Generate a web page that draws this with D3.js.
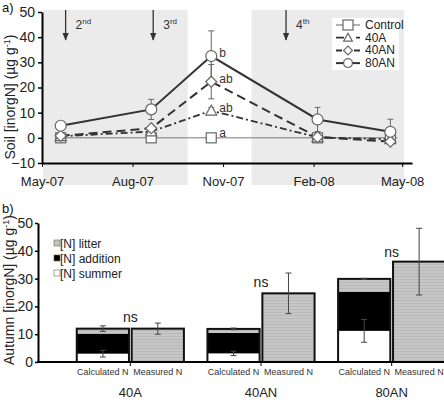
<!DOCTYPE html>
<html>
<head>
<meta charset="utf-8">
<script src="https://cdn.jsdelivr.net/npm/d3@7"></script>
<style>
body { margin: 0; background: #fff; }
svg { font-family: "Liberation Sans", Arial, sans-serif; }
</style>
</head>
<body>
<div id="chart"></div>
<script>
// ---- panel a) data ----
var sampleDates = ["2007-05-20", "2007-08-20", "2007-10-20", "2008-02-05", "2008-04-19"];
var controlVals = [0, 0, 0, 0, 0];
var n40A = [0.6, 2.5, 10.8, 0.2, -0.6];
var n40AN = [0.8, 3.8, 22.3, 0.3, -1.5];
var n80AN = [4.8, 11.3, 32.5, 7.3, 2.4];
var err40A = [0, 0, 1.2, 0, 0];
var err40AN = [0, 0, 6.8, 0, 0];
var err80AN = [0, 4, 10, 4.8, 5];
var timeTicks = ["2007-05-01", "2007-08-01", "2007-11-01", "2008-02-01", "2008-05-01"];
var tickNames = ["May-07", "Aug-07", "Nov-07", "Feb-08", "May-08"];
var shadeSpans = [["2007-05-02", "2007-09-26"], ["2007-11-30", "2008-05-03"]];
var additions = [["2007-05-25", "2"], ["2007-08-22", "3"], ["2008-01-04", "4"]];
var sigLetters = ["b", "ab", "ab", "a"];
var sigY = [33.6, 23.3, 11.8, 1.9];

// ---- panel b) data ----
var groups = ["40A", "40AN", "80AN"];
var barKinds = ["Calculated N", "Measured N"];
var summerN = [3.0, 3.1, 11.2];
var summerErr = [1.2, 0.8, 4.1];
var additionN = [7.2, 7.4, 14.1];
var litterN = [1.8, 1.4, 4.6];
var calcErr = [1.0, 0.3, 0.2];
var measuredN = [12.0, 24.7, 36.1];
var measuredErr = [2.0, 7.3, 12.0];
var nsY = [16.3, 28.8, 39.6];

var width = 444, height = 403;
var svg = d3.select("#chart").append("svg")
	.attr("width", width)
	.attr("height", height);

var parse = d3.timeParse("%Y-%m-%d");

var defs = svg.append("defs");
var pat = defs.append("pattern").attr("id", "litter")
	.attr("patternUnits", "userSpaceOnUse").attr("width", 4).attr("height", 3);
pat.append("rect").attr("width", 4).attr("height", 3).attr("fill", "#c6c6c6");
pat.append("line").attr("x1", 0).attr("x2", 4).attr("y1", 0.5).attr("y2", 0.5)
	.attr("stroke", "#b9b9b9").attr("stroke-width", 1);

// ================= panel a =================
var xA = d3.scaleTime()
	.domain([parse("2007-05-01"), parse("2008-05-11")])
	.range([42, 412]);
var yA = d3.scaleLinear().domain([-10, 50]).range([163, 12]);

var ga = svg.append("g");

shadeSpans.forEach(function(s) {
	ga.append("rect")
		.attr("x", xA(parse(s[0])))
		.attr("y", 10)
		.attr("width", xA(parse(s[1])) - xA(parse(s[0])))
		.attr("height", 175)
		.attr("fill", "#ebebeb");
});

// axes
var yAxisA = d3.axisLeft(yA).tickValues([-10, 0, 10, 20, 30, 40, 50]).tickSize(4).tickSizeOuter(0);
var axA = ga.append("g").attr("transform", "translate(42,0)").call(yAxisA);
axA.select(".domain").attr("stroke", "#000").attr("stroke-width", 2);
axA.selectAll(".tick line").attr("stroke", "#000").attr("stroke-width", 1.5);
axA.selectAll(".tick text").attr("font-size", 14).attr("fill", "#222").attr("font-family", "Liberation Sans, Arial");

var xAxisA = d3.axisBottom(xA)
	.tickValues(timeTicks.map(parse))
	.tickFormat(function(d, i) { return tickNames[i]; })
	.tickSize(4).tickSizeOuter(0);
var axXA = ga.append("g").attr("transform", "translate(0," + yA(-10) + ")").call(xAxisA);
axXA.select(".domain").attr("stroke", "#000").attr("stroke-width", 2);
axXA.selectAll(".tick line").attr("stroke", "#000").attr("stroke-width", 1);
axXA.selectAll(".tick text").attr("font-size", 13).attr("fill", "#222").attr("dy", "1.2em").attr("font-family", "Liberation Sans, Arial");

var lineGen = d3.line()
	.x(function(d, i) { return xA(parse(sampleDates[i])); })
	.y(function(d) { return yA(d); });

var series = [
	{ name: "Control", vals: controlVals, err: [0, 0, 0, 0, 0], dash: null, w: 1, col: "#666", marker: "square" },
	{ name: "40A", vals: n40A, err: err40A, dash: "7,3,2,3", w: 1.8, col: "#333", marker: "triangle" },
	{ name: "40AN", vals: n40AN, err: err40AN, dash: "9,5", w: 2, col: "#333", marker: "diamond" },
	{ name: "80AN", vals: n80AN, err: err80AN, dash: null, w: 2, col: "#333", marker: "circle" }
];

// control line
ga.append("line")
	.attr("x1", xA(parse(sampleDates[0]))).attr("x2", xA(parse("2008-04-26")))
	.attr("y1", yA(0)).attr("y2", yA(0))
	.attr("stroke", "#777").attr("stroke-width", 1);

series.slice(1).forEach(function(s) {
	ga.append("path")
		.datum(s.vals)
		.attr("d", lineGen)
		.attr("fill", "none")
		.attr("stroke", s.col)
		.attr("stroke-width", s.w)
		.attr("stroke-dasharray", s.dash);
});

// error bars
series.forEach(function(s) {
	s.vals.forEach(function(v, i) {
		if (s.err[i] <= 0) return;
		var x = xA(parse(sampleDates[i]));
		var e = ga.append("g").attr("stroke", "#666").attr("stroke-width", 1);
		e.append("line").attr("x1", x).attr("x2", x).attr("y1", yA(v - s.err[i])).attr("y2", yA(v + s.err[i]));
		e.append("line").attr("x1", x - 3).attr("x2", x + 3).attr("y1", yA(v + s.err[i])).attr("y2", yA(v + s.err[i]));
		e.append("line").attr("x1", x - 3).attr("x2", x + 3).attr("y1", yA(v - s.err[i])).attr("y2", yA(v - s.err[i]));
	});
});

function drawMarker(g, type, x, y, scale) {
	scale = scale || 1;
	var m;
	if (type == "circle") {
		m = g.append("circle").attr("cx", x).attr("cy", y).attr("r", 5.5 * scale);
	} else if (type == "square") {
		var s = 10 * scale;
		m = g.append("rect").attr("x", x - s / 2).attr("y", y - s / 2).attr("width", s).attr("height", s);
	} else if (type == "diamond") {
		var r = 5.5 * scale;
		m = g.append("path").attr("d", "M" + x + "," + (y - r) + "L" + (x + r) + "," + y + "L" + x + "," + (y + r) + "L" + (x - r) + "," + y + "Z");
	} else {
		var r2 = 5.5 * scale;
		m = g.append("path").attr("d", "M" + x + "," + (y - r2) + "L" + (x + r2) + "," + (y + r2 * 0.8) + "L" + (x - r2) + "," + (y + r2 * 0.8) + "Z");
	}
	m.attr("fill", "#fff").attr("stroke", "#666").attr("stroke-width", 1.2);
}

series.forEach(function(s) {
	s.vals.forEach(function(v, i) {
		drawMarker(ga, s.marker, xA(parse(sampleDates[i])), yA(v));
	});
});

// significance letters
sigLetters.forEach(function(l, i) {
	ga.append("text")
		.attr("x", xA(parse(sampleDates[2])) + 8)
		.attr("y", yA(sigY[i]) + 4)
		.attr("font-size", 12)
		.attr("fill", "#333")
		.text(l);
});

// addition arrows
defs.append("marker")
	.attr("id", "arrowhead")
	.attr("viewBox", "0 0 10 10")
	.attr("refX", 9).attr("refY", 5)
	.attr("markerWidth", 6).attr("markerHeight", 6)
	.attr("orient", "auto")
	.append("path").attr("d", "M0,1L10,5L0,9Z").attr("fill", "#333");

additions.forEach(function(a) {
	var x = xA(parse(a[0]));
	ga.append("line")
		.attr("x1", x).attr("x2", x).attr("y1", 10).attr("y2", 40)
		.attr("stroke", "#333").attr("stroke-width", 1.3)
		.attr("marker-end", "url(#arrowhead)");
	var sup = a[1] == "2" ? "nd" : (a[1] == "3" ? "rd" : "th");
	var t = ga.append("text").attr("x", x + 10).attr("y", 29).attr("font-size", 12).attr("fill", "#333");
	t.append("tspan").text(a[1]);
	t.append("tspan").attr("font-size", 8).attr("dy", -5).text(sup);
});

// legend a
var lg = ga.append("g").attr("transform", "translate(332,18)");
lg.append("rect").attr("width", 67).attr("height", 52).attr("fill", "#fff");
series.forEach(function(s, i) {
	var y = 7 + i * 12.7;
	lg.append("line").attr("x1", 4).attr("x2", 28).attr("y1", y).attr("y2", y)
		.attr("stroke", s.col).attr("stroke-width", s.w).attr("stroke-dasharray", s.dash ? (s.name == "40A" ? "8,5,2,5" : "6,3") : null);
	drawMarker(lg, s.marker, 16, y, s.name == "Control" ? 1 : 0.8);
	lg.append("text").attr("x", 33).attr("y", y + 4).attr("font-size", 12).attr("fill", "#222").text(s.name);
});

// labels
svg.append("text").attr("x", 2).attr("y", 12).attr("font-size", 13).attr("fill", "#111").text("a)");
var la = svg.append("text")
	.attr("transform", "translate(15,97) rotate(-90)")
	.attr("text-anchor", "middle").attr("font-size", 14).attr("fill", "#222");
la.append("tspan").text("Soil [inorgN] (µg g");
la.append("tspan").attr("font-size", 9).attr("dy", -5).text("-1");
la.append("tspan").attr("dy", 5).text(")");

// ================= panel b =================
var yB = d3.scaleLinear().domain([0, 50]).range([362, 223]);
var xG = d3.scaleBand().domain(groups).range([65, 457]).paddingInner(0.18).paddingOuter(0.09);
var xK = d3.scaleBand().domain(barKinds).range([0, xG.bandwidth()]).paddingInner(0.05);

var gb = svg.append("g");

var yAxisB = d3.axisLeft(yB).tickValues([0, 10, 20, 30, 40, 50]).tickSize(3).tickPadding(2).tickSizeOuter(0);
var axB = gb.append("g").attr("transform", "translate(38,0)").call(yAxisB);
axB.select(".domain").attr("stroke", "#000").attr("stroke-width", 2);
axB.selectAll(".tick line").attr("stroke", "#000").attr("stroke-width", 1.5);
axB.selectAll(".tick text").attr("font-size", 14).attr("fill", "#222").attr("font-family", "Liberation Sans, Arial");

groups.forEach(function(g, i) {
	var x0 = xG(g);
	var xc = x0 + xK("Calculated N");
	var xm = x0 + xK("Measured N");
	var bw = xK.bandwidth();
	var stack = [[0, summerN[i], "#fff"], [summerN[i], summerN[i] + additionN[i], "#000"],
		[summerN[i] + additionN[i], summerN[i] + additionN[i] + litterN[i], "url(#litter)"]];
	stack.forEach(function(s) {
		gb.append("rect").attr("x", xc).attr("width", bw)
			.attr("y", yB(s[1])).attr("height", yB(s[0]) - yB(s[1]))
			.attr("fill", s[2]);
	});
	var tot = summerN[i] + additionN[i] + litterN[i];
	gb.append("rect").attr("x", xc).attr("width", bw)
		.attr("y", yB(tot)).attr("height", yB(0) - yB(tot))
		.attr("fill", "none").attr("stroke", "#111").attr("stroke-width", 2);
	gb.append("rect").attr("x", xm).attr("width", bw)
		.attr("y", yB(measuredN[i])).attr("height", yB(0) - yB(measuredN[i]))
		.attr("fill", "url(#litter)").attr("stroke", "#111").attr("stroke-width", 2);

	var errs = [[xc + bw / 2, summerN[i], summerErr[i]], [xc + bw / 2, tot, calcErr[i]], [xm + bw / 2, measuredN[i], measuredErr[i]]];
	errs.forEach(function(e) {
		var eg = gb.append("g").attr("stroke", "#444").attr("stroke-width", 1);
		eg.append("line").attr("x1", e[0]).attr("x2", e[0]).attr("y1", yB(e[1] - e[2])).attr("y2", yB(e[1] + e[2]));
		eg.append("line").attr("x1", e[0] - 3).attr("x2", e[0] + 3).attr("y1", yB(e[1] - e[2])).attr("y2", yB(e[1] - e[2]));
		eg.append("line").attr("x1", e[0] - 3).attr("x2", e[0] + 3).attr("y1", yB(e[1] + e[2])).attr("y2", yB(e[1] + e[2]));
	});

	gb.append("text").attr("x", xc + bw / 2).attr("y", 375).attr("text-anchor", "middle")
		.attr("font-size", 9).attr("fill", "#333").text("Calculated N");
	gb.append("text").attr("x", xm + bw / 2).attr("y", 375).attr("text-anchor", "middle")
		.attr("font-size", 9).attr("fill", "#333").text("Measured N");
	gb.append("text").attr("x", x0 + xG.bandwidth() / 2).attr("y", 397).attr("text-anchor", "middle")
		.attr("font-size", 13).attr("fill", "#222").text(g);
	gb.append("text").attr("x", x0 + xG.bandwidth() / 2).attr("y", yB(nsY[i]) + 5).attr("text-anchor", "middle")
		.attr("font-size", 14).attr("fill", "#222").text("ns");
	gb.append("line").attr("x1", x0 + xG.bandwidth() / 2).attr("x2", x0 + xG.bandwidth() / 2)
		.attr("y1", yB(0)).attr("y2", yB(0) + 4).attr("stroke", "#000");
});

gb.append("line").attr("x1", 37).attr("x2", 444).attr("y1", yB(0)).attr("y2", yB(0))
	.attr("stroke", "#000").attr("stroke-width", 2);

// legend b
var legB = [["[N] litter", "#c4c4c4"], ["[N] addition", "#000"], ["[N] summer", "#fff"]];
legB.forEach(function(l, i) {
	var y = 244 + i * 15;
	gb.append("rect").attr("x", 54).attr("y", y - 4).attr("width", 6).attr("height", 6)
		.attr("fill", l[1]).attr("stroke", "#666").attr("stroke-width", 0.6);
	gb.append("text").attr("x", 60).attr("y", y + 4).attr("font-size", 12).attr("fill", "#222").text(l[0]);
});

svg.append("text").attr("x", 2).attr("y", 213).attr("font-size", 13).attr("fill", "#111").text("b)");
var lb = svg.append("text")
	.attr("transform", "translate(14,290) rotate(-90)")
	.attr("text-anchor", "middle").attr("font-size", 14).attr("fill", "#222");
lb.append("tspan").text("Autumn [inorgN] (µg g");
lb.append("tspan").attr("font-size", 9).attr("dy", -5).text("-1");
lb.append("tspan").attr("dy", 5).text(")");
</script>
</body>
</html>
